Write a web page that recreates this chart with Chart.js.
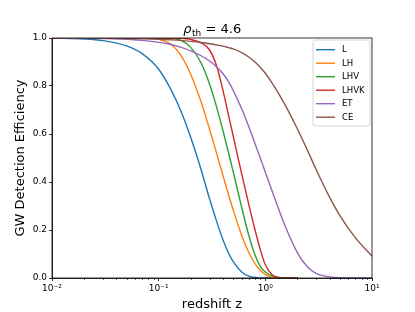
<!DOCTYPE html>
<html><head><meta charset="utf-8">
<script src="https://cdn.jsdelivr.net/npm/chart.js@4/dist/chart.umd.min.js"></script>
<style>html,body{margin:0;padding:0;background:#fff}#wrap{width:415px;height:312px}</style>
</head><body><div id="wrap"><canvas id="c" width="415" height="312"></canvas></div>
<script>
// ---- data ----
const redshift = [0.01, 0.02, 0.03, 0.05, 0.07, 0.1, 0.13, 0.16, 0.2, 0.25, 0.3, 0.35, 0.4, 0.45, 0.5, 0.6, 0.7, 0.8, 0.9, 1.0, 1.2, 1.5, 2, 2.5, 3, 4, 5, 7, 10];
const effL    = [1.0, 0.996, 0.989, 0.967, 0.935, 0.87, 0.786, 0.70, 0.585, 0.451, 0.33, 0.235, 0.16, 0.105, 0.068, 0.025, 0.008, 0.002, 0.0003, 0, 0, 0, 0, null, null, null, null, null, null];
const effLH   = [1, 1, 1, 1, 1, 0.995, 0.974, 0.931, 0.848, 0.733, 0.620, 0.518, 0.428, 0.350, 0.283, 0.1775, 0.106, 0.060, 0.031, 0.014, 0.0016, 0, 0, null, null, null, null, null, null];
const effLHV  = [1, 1, 1, 1, 1, 1, 0.999, 0.991, 0.961, 0.896, 0.808, 0.711, 0.615, 0.525, 0.442, 0.294, 0.177, 0.096, 0.047, 0.025, 0.006, 0.0008, 0, null, null, null, null, null, null];
const effLHVK = [1, 1, 1, 1, 1, 1, 1, 0.999, 0.994, 0.98, 0.95, 0.882, 0.783, 0.682, 0.591, 0.434, 0.306, 0.201, 0.116, 0.055, 0.009, 0.0004, 0, null, null, null, null, null, null];
const effET   = [1, 0.9995, 0.998, 0.995, 0.99, 0.982, 0.973, 0.962, 0.9465, 0.926, 0.904, 0.8795, 0.852, 0.819, 0.782, 0.705, 0.63, 0.56, 0.498, 0.441, 0.343, 0.227, 0.105, 0.045, 0.019, 0.0046, 0.001, 0, 0];
const effCE   = [1, 0.9995, 0.999, 0.998, 0.997, 0.995, 0.9925, 0.99, 0.986, 0.981, 0.976, 0.971, 0.966, 0.960, 0.955, 0.9395, 0.921, 0.900, 0.877, 0.853, 0.802, 0.729, 0.621, 0.529, 0.451, 0.337, 0.260, 0.167, 0.091];
const seriesNames = ['L', 'LH', 'LHV', 'LHVK', 'ET', 'CE'];
const seriesValues = [effL, effLH, effLHV, effLHVK, effET, effCE];
const seriesColors = ['#1f77b4', '#ff7f0e', '#2ca02c', '#d62728', '#9467bd', '#8c564b'];
const xMajorTicks = [0.01, 0.1, 1, 10];
const xMajorLabels = ['10\u207B\u00B2', '10\u207B\u00B9', '10\u2070', '10\u00B9'];
const yTicks = [0, 0.2, 0.4, 0.6, 0.8, 1.0];
const titleMain = '\u03C1';
const titleSub = 'th';
const titleRest = ' = 4.6';
const xTitle = 'redshift z';
const yTitle = 'GW Detection Efficiency';

const FONT = "'DejaVu Sans', sans-serif";

const datasets = seriesNames.map((name, i) => ({
  label: name,
  data: redshift.map((z, k) => ({x: z, y: seriesValues[i][k]})).filter(p => p.y !== null),
  borderColor: seriesColors[i],
  backgroundColor: seriesColors[i],
  borderWidth: 1.4,
  pointRadius: 0,
  fill: false,
  cubicInterpolationMode: 'monotone',
  order: seriesNames.length - i
}));

const framePlugin = {
  id: 'frame',
  afterDatasetsDraw(chart) {
    const {ctx, chartArea: a, scales} = chart;
    ctx.save();
    ctx.strokeStyle = '#000';
    ctx.lineWidth = 0.6;
    const xs = scales.x;
    for (let k = -2; k < 1; k++) {
      for (let m = 2; m <= 9; m++) {
        const px = Math.round(xs.getPixelForValue(m * Math.pow(10, k))) + 0.5;
        ctx.beginPath(); ctx.moveTo(px, a.bottom); ctx.lineTo(px, a.bottom + 2); ctx.stroke();
      }
    }
    ctx.lineWidth = 0.8;
    ctx.strokeRect(a.left, a.top, a.right - a.left, a.bottom - a.top);
    ctx.restore();
  },
  afterDraw(chart) {
    const {ctx, chartArea: a} = chart;
    ctx.save();
    const big = '13px ' + FONT, ital = 'italic 13px ' + FONT, small = '9px ' + FONT;
    ctx.font = ital; const w1 = ctx.measureText(titleMain).width;
    ctx.font = small; const w2 = ctx.measureText(titleSub).width;
    ctx.font = big; const w3 = ctx.measureText(titleRest).width;
    let x = (a.left + a.right) / 2 - (w1 + w2 + w3) / 2;
    const by = a.top - 5;
    ctx.fillStyle = '#000';
    ctx.textBaseline = 'alphabetic';
    ctx.textAlign = 'left';
    ctx.font = ital; ctx.fillText(titleMain, x, by); x += w1 + 0.5;
    ctx.font = small; ctx.fillText(titleSub, x, by + 2.5); x += w2;
    ctx.font = big; ctx.fillText(titleRest, x, by);

    const lx0 = a.right - 59, lx1 = a.right - 2, ly0 = a.top + 2, ly1 = a.top + 88;
    const r = 2;
    ctx.beginPath();
    ctx.moveTo(lx0 + r, ly0); ctx.lineTo(lx1 - r, ly0); ctx.quadraticCurveTo(lx1, ly0, lx1, ly0 + r);
    ctx.lineTo(lx1, ly1 - r); ctx.quadraticCurveTo(lx1, ly1, lx1 - r, ly1);
    ctx.lineTo(lx0 + r, ly1); ctx.quadraticCurveTo(lx0, ly1, lx0, ly1 - r);
    ctx.lineTo(lx0, ly0 + r); ctx.quadraticCurveTo(lx0, ly0, lx0 + r, ly0);
    ctx.closePath();
    ctx.fillStyle = 'rgba(255,255,255,0.8)'; ctx.fill();
    ctx.strokeStyle = '#cccccc'; ctx.lineWidth = 0.8; ctx.stroke();
    ctx.font = '8.5px ' + FONT;
    ctx.textBaseline = 'middle';
    chart.data.datasets.forEach((ds, i) => {
      const yy = ly0 + 9.7 + i * 13.5;
      ctx.strokeStyle = ds.borderColor; ctx.lineWidth = 1.4;
      ctx.beginPath(); ctx.moveTo(lx0 + 3, yy); ctx.lineTo(lx0 + 22, yy); ctx.stroke();
      ctx.fillStyle = '#000';
      ctx.fillText(ds.label, lx0 + 29, yy + 0.5);
    });
    ctx.restore();
  }
};

new Chart(document.getElementById('c'), {
  type: 'line',
  data: {datasets},
  options: {
    responsive: false,
    devicePixelRatio: 1,
    animation: false,
    layout: {padding: {top: 38, right: 43, left: 0, bottom: 0}},
    plugins: {legend: {display: false}, title: {display: false}, tooltip: {enabled: false}},
    scales: {
      x: {
        type: 'logarithmic',
        min: 0.01, max: 10,
        afterFit(s) { s.height = 34; },
        afterBuildTicks(s) { s.ticks = xMajorTicks.map(v => ({value: v, major: true})); },
        ticks: {
          autoSkip: false, maxRotation: 0, padding: 2,
          color: '#000', font: {family: FONT, size: 9},
          callback: (v) => { const i = xMajorTicks.findIndex(t => Math.abs(t - v) / t < 1e-6); return i >= 0 ? xMajorLabels[i] : ''; }
        },
        grid: {drawOnChartArea: false, drawTicks: true, tickLength: 3, tickColor: '#000', tickWidth: 0.8},
        border: {display: true, color: '#000', width: 0.8},
        title: {display: true, text: xTitle, color: '#000', font: {family: FONT, size: 13}, padding: {top: 0, bottom: 0}}
      },
      y: {
        type: 'linear',
        min: 0, max: 1,
        afterFit(s) { s.width = 52; },
        afterBuildTicks(s) { s.ticks = yTicks.map(v => ({value: v})); },
        ticks: {
          padding: 2, color: '#000', font: {family: FONT, size: 9},
          callback: (v) => Number(v).toFixed(1)
        },
        grid: {drawOnChartArea: false, drawTicks: true, tickLength: 3, tickColor: '#000', tickWidth: 0.8},
        border: {display: true, color: '#000', width: 0.8},
        title: {display: true, text: yTitle, color: '#000', font: {family: FONT, size: 13}, padding: {top: 13, bottom: 0}}
      }
    }
  },
  plugins: [framePlugin]
});
</script>
</body></html>
